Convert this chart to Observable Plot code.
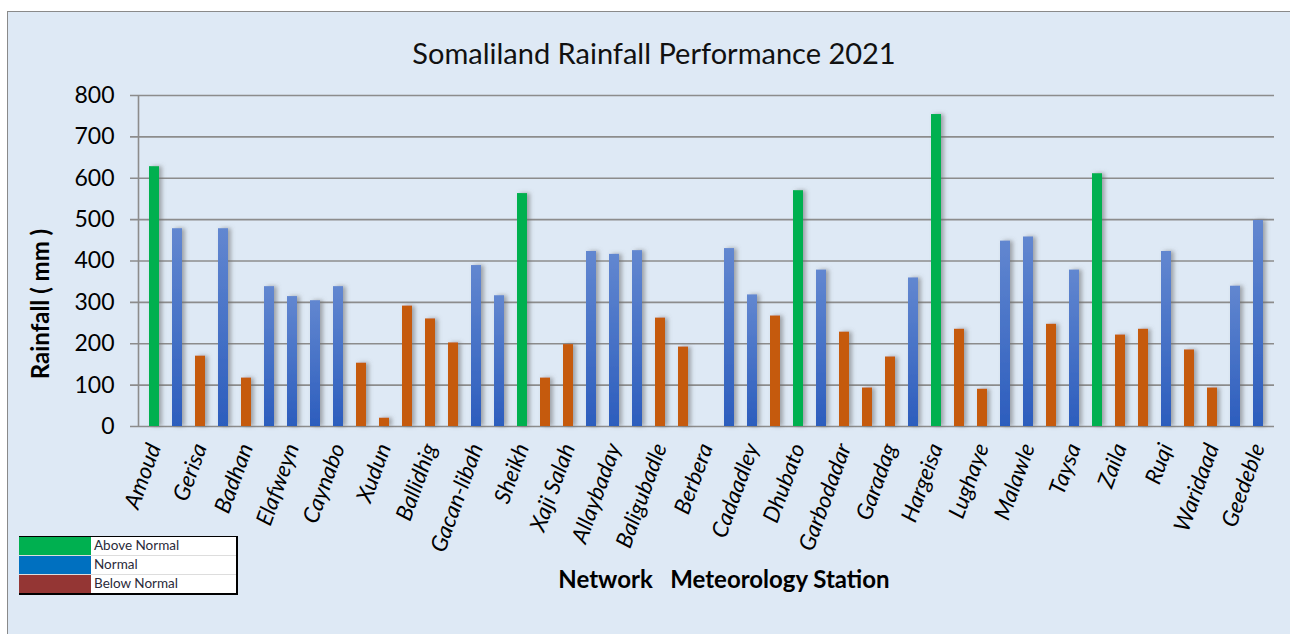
<!DOCTYPE html>
<html>
<head>
<meta charset="utf-8">
<script src="https://cdn.jsdelivr.net/npm/d3@7"></script>
<script src="https://cdn.jsdelivr.net/npm/@observablehq/plot@0.6"></script>
<style>
  html, body { margin: 0; padding: 0; background: #ffffff; }
  #wrap { position: relative; width: 1290px; height: 634px; overflow: hidden; font-family: Lato, "Open Sans", sans-serif; }
  #box { position: absolute; left: 7px; top: 11px; width: 1300px; height: 640px; background: #DEE9F5; border: 1.5px solid #8a8a8a; box-sizing: border-box; }
  #chart { position: absolute; left: 0; top: 0; }
  #title { position: absolute; left: 0; width: 1308px; top: 52px; transform: translateY(-50%); text-align: center; font-size: 29px; color: #111; line-height: 1; }
  #ytitle { position: absolute; left: 39px; top: 304px; transform: translate(-50%, -50%) rotate(-90deg); font-weight: bold; font-size: 24px; white-space: nowrap; color: #000; }
  #xtitle { position: absolute; left: 724px; top: 578px; transform: translate(-50%, -50%); font-weight: bold; font-size: 24px; white-space: pre; color: #000; }
  #legend { position: absolute; left: 19px; top: 536px; border-collapse: collapse; background: #fff; border-top: 1px solid #000; border-right: 2px solid #000; border-bottom: 2px solid #000; }
  #legend td { height: 18px; padding: 0; font-size: 13.5px; color: #2a2a3a; border-bottom: 1px solid #ddd; line-height: 1; }
  #legend td.sw { width: 72px; }
  #legend td.lb { width: 142px; padding-left: 3px; }
</style>
</head>
<body>
<div id="wrap">
  <div id="box"></div>
  <div id="chart"></div>
  <div id="title">Somaliland Rainfall Performance 2021</div>
  <div id="ytitle">Rainfall ( mm )</div>
  <div id="xtitle">Network   Meteorology Station</div>
  <table id="legend"></table>
</div>
<script>
// Tick labels (every second station is labelled on the axis)
const stationLabels = ["Amoud","Gerisa","Badhan","Elafweyn","Caynabo","Xudun","Ballidhig","Gacan-libah","Sheikh","Xaji Salah","Allaybaday","Baligubadle","Berbera","Cadaadley","Dhubato","Garbodadar","Garadag","Hargeisa","Lughaye","Malawle","Taysa","Zaila","Ruqi","Waridaad","Geedeble"];
// Rainfall (mm) for the 49 station bars, left to right
const rainfall = [628,478,170,478,117,338,314,304,338,153,20,291,260,202,389,316,563,117,198,423,416,425,262,192,null,430,318,267,570,378,228,93,168,359,754,235,90,448,458,247,378,611,221,235,423,185,93,339,498];
// Status: A = Above Normal, N = Normal, B = Below Normal
const status = ["A","N","B","N","B","N","N","N","N","B","B","B","B","B","N","N","A","B","B","N","N","N","B","B","N","N","N","B","A","N","B","B","B","N","A","B","B","N","N","B","N","A","B","B","N","B","B","N","N"];
const legendItems = ["Above Normal","Normal","Below Normal"];
const legendColors = ["#00B050","#0070C0","#943634"];
const yTicks = [0,100,200,300,400,500,600,700,800];

const data = rainfall.map((v, i) => ({i, v, s: status[i]})).filter(d => d.v != null);

const chart = Plot.plot({
  width: 1290,
  height: 634,
  marginLeft: 138,
  marginRight: 16,
  marginTop: 95,
  marginBottom: 208,
  style: {background: "transparent", fontFamily: "Lato, 'Open Sans', sans-serif"},
  x: {type: "band", domain: d3.range(rainfall.length), paddingInner: 0.57, paddingOuter: 0.35},
  y: {domain: [0, 800]},
  marks: [
    Plot.ruleY(yTicks, {stroke: "#8c8c8c", strokeWidth: 1.6, insetLeft: -8}),
    Plot.barY(data.filter(d => d.s === "A"), {x: "i", y: "v", fill: "#00B050"}),
    Plot.barY(data.filter(d => d.s === "N"), {x: "i", y: "v", fill: "url(#blueGrad)"}),
    Plot.barY(data.filter(d => d.s === "B"), {x: "i", y: "v", fill: "#C55A11"}),
    Plot.axisY({ticks: yTicks, tickSize: 0, tickPadding: 24, fontSize: 23, fill: "#000", label: null}),
    Plot.axisX({ticks: d3.range(0, rainfall.length, 2), tickFormat: i => stationLabels[i / 2], tickRotate: -70, tickSize: 0, tickPadding: 18, fontSize: 22.5, fontStyle: "italic", fill: "#000", label: null})
  ]
});

const svg = d3.select(chart);
const defs = svg.insert("defs", ":first-child");
const g = defs.append("linearGradient").attr("id", "blueGrad").attr("x1", 0).attr("y1", 0).attr("x2", 0).attr("y2", 1);
g.append("stop").attr("offset", "0%").attr("stop-color", "#6287D0");
g.append("stop").attr("offset", "100%").attr("stop-color", "#2C5DBD");
const f = defs.append("filter").attr("id", "barShadow").attr("x", "-50%").attr("y", "-10%").attr("width", "200%").attr("height", "120%");
f.append("feDropShadow").attr("dx", 3).attr("dy", 0).attr("stdDeviation", 2).attr("flood-color", "#6b6b6b").attr("flood-opacity", 0.55);
svg.selectAll("g[aria-label='bar']").attr("filter", "url(#barShadow)");
const xr = chart.scale("x").range, yr = chart.scale("y").range;
svg.append("line").attr("x1", xr[0] + 0.5).attr("x2", xr[0] + 0.5).attr("y1", yr[0]).attr("y2", yr[1]).attr("stroke", "#8c8c8c").attr("stroke-width", 1.6);

document.getElementById("chart").appendChild(chart);

const leg = d3.select("#legend");
legendItems.forEach((t, k) => {
  const tr = leg.append("tr");
  tr.append("td").attr("class", "sw").style("background", legendColors[k]);
  tr.append("td").attr("class", "lb").text(t);
});
</script>
</body>
</html>
